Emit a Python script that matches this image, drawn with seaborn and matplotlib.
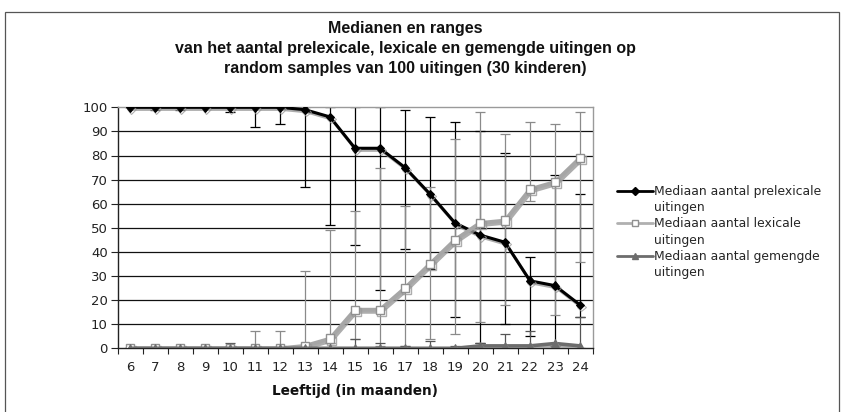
import matplotlib
matplotlib.use("Agg")
import matplotlib.pyplot as plt
import matplotlib.patheffects as pe
from matplotlib.lines import Line2D
from matplotlib.patches import Rectangle
import seaborn as sns

# leeftijd in maanden
leeftijd = list(range(6, 25))

# mediaan + range prelexicale uitingen
prelex_med = [100, 100, 100, 100, 100, 100, 100, 99, 96, 83, 83, 75, 64, 52, 47, 44, 28, 26, 18]
prelex_min = [100, 99, 99, 100, 98, 92, 93, 67, 51, 43, 24, 41, 33, 13, 2, 10, 5, 1, 13]
prelex_max = [100, 100, 100, 100, 100, 100, 100, 100, 100, 100, 100, 99, 96, 94, 90, 81, 38, 72, 64]

# lexicale uitingen
lex_med = [0, 0, 0, 0, 0, 0, 0, 1, 4, 16, 16, 25, 35, 45, 52, 53, 66, 69, 79]
lex_min = [0, 0, 0, 0, 0, 0, 0, 0, 0, 4, 1, 1, 4, 6, 11, 18, 61, 14, 36]
lex_max = [0, 0, 0, 0, 1, 7, 7, 32, 49, 57, 75, 59, 67, 87, 98, 89, 94, 93, 98]

# gemengde uitingen
gem_med = [0, 0, 0, 0, 0, 0, 0, 0, 0, 0, 0, 0, 0, 0, 1, 1, 1, 2, 1]
gem_min = [0, 0, 0, 0, 0, 0, 0, 0, 0, 0, 0, 0, 0, 0, 0, 0, 0, 0, 0]
gem_max = [0, 0, 0, 0, 2, 0, 0, 0, 2, 4, 2, 1, 3, 1, 2, 6, 7, 2, 13]

labels = ["Mediaan aantal prelexicale", "Mediaan aantal lexicale", "Mediaan aantal gemengde"]

sns.set_theme(style="white")
plt.rcParams['font.family'] = ['DejaVu Sans']

fig = plt.figure(figsize=(8.42, 4.12), dpi=100)
ax = fig.add_axes([117.5 / 842, 1 - 348.3 / 412, 475 / 842, 241 / 412])

# gridlijnen
for v in range(10, 100, 10):
    ax.axhline(v, color='#111111', lw=0.9, zorder=1)

series = [
    (prelex_med, prelex_min, prelex_max, '#000000'),
    (lex_med, lex_min, lex_max, '#8a8a8a'),
    (gem_med, gem_min, gem_max, '#555555'),
]

# error bars (ranges)
for med, lo, hi, ecol in series:
    err = [[m - l for m, l in zip(med, lo)], [h - m for m, h in zip(med, hi)]]
    ax.errorbar(leeftijd, med, yerr=err, fmt='none', ecolor=ecol, elinewidth=0.9,
                capsize=3.6, capthick=0.9, zorder=2)

shadow = [pe.SimpleLineShadow(offset=(1, -1.5), shadow_color='#999999', alpha=0.8), pe.Normal()]

sns.lineplot(x=leeftijd, y=prelex_med, ax=ax, color='#000000', lw=2.2, marker='D',
             markersize=4.5, markerfacecolor='#000000', markeredgecolor='#000000',
             path_effects=shadow, zorder=4, legend=False)
sns.lineplot(x=leeftijd, y=lex_med, ax=ax, color='#a6a6a6', lw=2.8, marker='s',
             markersize=6, markerfacecolor='white', markeredgecolor='#909090', markeredgewidth=1,
             path_effects=shadow, zorder=5, legend=False)
sns.lineplot(x=leeftijd, y=gem_med, ax=ax, color='#6d6d6d', lw=2.6, marker='^',
             markersize=6, markerfacecolor='#6d6d6d', markeredgecolor='#6d6d6d',
             path_effects=shadow, zorder=6, legend=False)

ax.set_xlim(5.5, 24.5)
ax.set_ylim(0, 100)
ax.set_xticks(leeftijd)
ax.set_xticks([x + 0.5 for x in range(5, 25)], minor=True)
ax.set_yticks(range(0, 101, 10))
ax.tick_params(axis='x', which='major', length=0, pad=9, labelsize=9.5, colors='#222222')
ax.tick_params(axis='x', which='minor', bottom=True, length=4, width=0.8, color='#222222', direction='out')
ax.tick_params(axis='y', which='major', left=True, length=5, width=0.8, color='#222222', pad=2,
               labelsize=9.5, labelcolor='#222222')
ax.set_xlabel("Leeftijd (in maanden)", fontsize=9.8, fontweight='bold', labelpad=7, color='#111111')

for side in ['left', 'bottom']:
    ax.spines[side].set_color('#222222')
    ax.spines[side].set_linewidth(1)
for side in ['top', 'right']:
    ax.spines[side].set_color('#9a9a9a')
    ax.spines[side].set_linewidth(1)

# legenda
h1 = Line2D([], [], color='#000000', lw=2, marker='D', markersize=4, markerfacecolor='#000000')
h2 = Line2D([], [], color='#b0b0b0', lw=2, marker='s', markersize=5, markerfacecolor='white',
            markeredgecolor='#909090')
h3 = Line2D([], [], color='#6d6d6d', lw=2, marker='^', markersize=5, markerfacecolor='#6d6d6d')
blank = Line2D([], [], color='none')
fig.legend([h1, blank, h2, blank, h3, blank],
           [labels[0], "uitingen", labels[1], "uitingen", labels[2], "uitingen"],
           loc='upper left', bbox_to_anchor=(617 / 842, 1 - 185 / 412), frameon=False,
           fontsize=8.9, handlelength=2.9, handletextpad=0.1, labelspacing=0.26,
           borderpad=0, borderaxespad=0)

fig.text(405 / 842, 1 - 48.5 / 412,
         "Medianen en ranges\nvan het aantal prelexicale, lexicale en gemengde uitingen op\n"
         "random samples van 100 uitingen (30 kinderen)",
         ha='center', va='center', fontsize=11.5, fontweight='bold', linespacing=1.45,
         family=['Liberation Sans', 'DejaVu Sans'], color='#111111')

fig.patches.append(Rectangle((5 / 842, -0.05), 834 / 842, 1.05 - 12 / 412, transform=fig.transFigure,
                             fill=False, ec='#555555', lw=0.9))

fig.savefig("out.png", dpi=100)
